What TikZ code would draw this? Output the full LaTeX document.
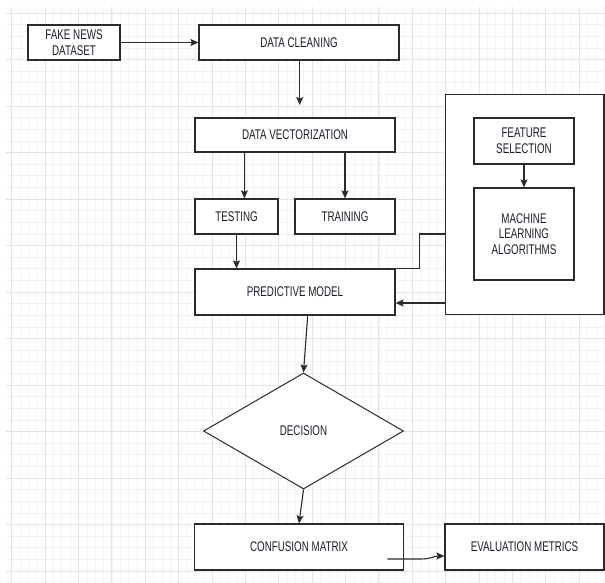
\documentclass[tikz,border=0pt]{standalone}
\usepackage{fontspec}
\usepackage{graphicx}
\setmainfont{Liberation Sans}
\usetikzlibrary{arrows.meta,shapes.geometric}
\definecolor{gridmajor}{HTML}{E4E4E4}
\definecolor{gridminor}{HTML}{F3F3F3}
\definecolor{inkline}{HTML}{2B2B2B}
\definecolor{inktext}{HTML}{1E1E2A}
\newcommand{\nt}[1]{\scalebox{0.7}[1]{#1}}
\tikzset{
  box/.style={draw=inkline, fill=white, line width=1.2pt, inner sep=0pt, align=center,
              font=\fontsize{14}{16.5}\selectfont, text=inktext},
  arr/.style={draw=inkline, line width=1.1pt, -{Stealth[length=8pt,width=7pt,inset=1.5pt]}},
  link/.style={draw=inkline, line width=1.1pt},
}
\begin{document}
\begin{tikzpicture}[x=1pt,y=-1pt]
\useasboundingbox (0,0) rectangle (605,583);
\fill[white] (0,0) rectangle (605,583);
% grid
\foreach \i in {0,...,71} {
  \draw[gridminor, line width=0.6pt] ({11.7+8.345*\i},7) -- ({11.7+8.345*\i},583);
}
\foreach \i in {0,...,49} {
  \draw[gridminor, line width=0.6pt] (6,{13+11.625*\i}) -- (605,{13+11.625*\i});
}
\foreach \i in {0,...,17} {
  \draw[gridmajor, line width=0.9pt] ({11.7+33.38*\i},7) -- ({11.7+33.38*\i},583);
}
\foreach \i in {0,...,12} {
  \draw[gridmajor, line width=0.9pt] (6,{13+46.5*\i}) -- (605,{13+46.5*\i});
}
% nodes
\node[box, minimum width=92pt, minimum height=35pt] (fake) at (74,42.5) {\nt{FAKE NEWS}\\[-1pt]\nt{DATASET}};
\node[box, minimum width=200pt, minimum height=35pt] (clean) at (299,42.5) {\nt{DATA CLEANING}};
\node[box, minimum width=200pt, minimum height=34pt] (vec) at (295,135) {\nt{DATA VECTORIZATION}};
\node[box, minimum width=83pt, minimum height=35pt] (test) at (236.5,216.5) {\nt{TESTING}};
\node[box, minimum width=100pt, minimum height=35pt] (train) at (345,216.5) {\nt{TRAINING}};
\node[box, minimum width=200pt, minimum height=46pt] (pred) at (295,292) {\nt{PREDICTIVE MODEL}};
\node[box, minimum width=158.7pt, minimum height=220pt] (big) at (524.7,204.7) {};
\node[box, minimum width=100pt, minimum height=46pt] (fs) at (524,141) {\nt{FEATURE}\\[-1pt]\nt{SELECTION}};
\node[box, minimum width=100pt, minimum height=92pt] (ml) at (524,234) {\nt{MACHINE}\\[-1pt]\nt{LEARNING}\\[-1pt]\nt{ALGORITHMS}};
\node[box, diamond, line width=1pt, minimum width=200pt, minimum height=116pt] (dec) at (303.5,431) {\nt{DECISION}};
\node[box, minimum width=208.6pt, minimum height=46pt] (cm) at (299,547) {\nt{CONFUSION MATRIX}};
\node[box, minimum width=159pt, minimum height=46pt] (em) at (524.5,547) {\nt{EVALUATION METRICS}};
% connectors
\coordinate (c1) at (299.7,105);
\coordinate (p1) at ([yshift=-11pt]pred.east);
\coordinate (v1) at ([xshift=50pt]vec.south west);
\coordinate (cs) at ([xshift=-16.6pt,yshift=-12pt]cm.east);
\coordinate (ee) at ([yshift=-9pt]em.west);
\draw[arr] (fake.east) -- (fake.east -| clean.west);
\draw[arr] (clean.south -| c1) -- (c1);
\draw[arr] (v1) -- (v1 |- test.north);
\draw[arr] (train.north |- vec.south) -- (train.north);
\draw[arr] (test.south) -- (test.south |- pred.north);
\draw[arr] (fs.south) -- (ml.north);
\draw[link] (big.west |- ml) -- ++(-25.7,0) |- (pred.north east);
\draw[arr] (big.west |- p1) -- (p1);
\draw[arr] ([xshift=12.7pt]pred.south) -- (dec.north);
\draw[arr] (dec.south) -- (cm.north);
\draw[arr] (cs) -- ++(33,0) .. controls +(10,0) and +(-10,0) .. (ee);
\end{tikzpicture}
\end{document}
